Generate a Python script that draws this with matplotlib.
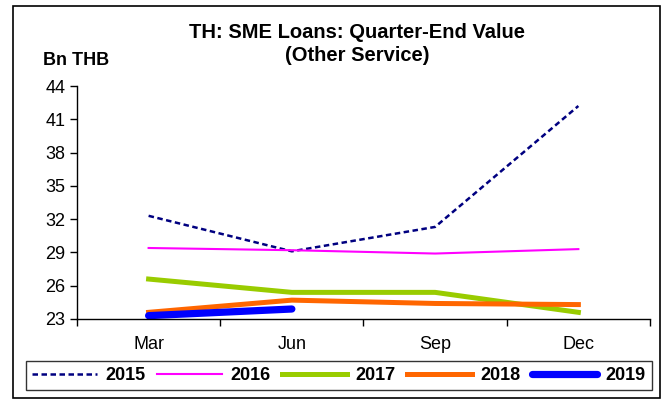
import matplotlib
matplotlib.use("Agg")
import matplotlib.pyplot as plt
from matplotlib.patches import Rectangle

plt.rcParams['font.family'] = ['Liberation Sans', 'DejaVu Sans']

quarters = ["Mar", "Jun", "Sep", "Dec"]
s2015 = [32.3, 29.1, 31.3, 42.2]
s2016 = [29.4, 29.2, 28.9, 29.3]
s2017 = [26.6, 25.4, 25.4, 23.6]
s2018 = [23.6, 24.7, 24.4, 24.3]
s2019 = [23.3, 23.9]
yticks = [23, 26, 29, 32, 35, 38, 41, 44]

fig = plt.figure(figsize=(6.67, 4.01), dpi=100)
ax = fig.add_axes([0.1154, 0.2045, 0.8591, 0.581])

x = list(range(len(quarters)))
ax.plot(x, s2015, color="#000080", lw=1.8, ls=(0, (2.2, 1.4)), label="2015")
ax.plot(x, s2016, color="#FF00FF", lw=1.5, label="2016")
ax.plot(x, s2017, color="#99CC00", lw=3.6, label="2017")
ax.plot(x, s2018, color="#FF6600", lw=3.6, label="2018")
ax.plot(x[:len(s2019)], s2019, color="#0000FF", lw=5.2, solid_capstyle="round", label="2019")

ax.set_xlim(-0.5, 3.5)
ax.set_ylim(23, 44)
ax.set_yticks(yticks)
ax.tick_params(axis="y", labelsize=13, length=5, width=1, direction="out")

ax.set_xticks([-0.5, 0.5, 1.5, 2.5, 3.5])
ax.set_xticklabels([])
ax.set_xticks(x, minor=True)
ax.set_xticklabels(quarters, minor=True)
ax.tick_params(axis="x", which="major", length=5, width=1, direction="out")
ax.tick_params(axis="x", which="minor", length=0, labelsize=13, pad=12)

for side in ["top", "right"]:
    ax.spines[side].set_visible(False)
for side in ["left", "bottom"]:
    ax.spines[side].set_linewidth(1)

fig.text(0.535, 0.89, "TH: SME Loans: Quarter-End Value\n(Other Service)",
         ha="center", va="center", fontsize=14.5, fontweight="bold", linespacing=1.3)
fig.text(0.064, 0.85, "Bn THB", ha="left", va="center", fontsize=13, fontweight="bold")

leg = fig.legend(loc="center", bbox_to_anchor=(0.508, 0.064), ncol=5, frameon=True,
                 fancybox=False, edgecolor="black", prop={"weight": "bold", "size": 13},
                 handlelength=3.6, handletextpad=0.45, columnspacing=0.65,
                 borderpad=0.35)
leg.get_frame().set_linewidth(1)

fig.patches.append(Rectangle((0.0195, 0.008), 0.97, 0.977, transform=fig.transFigure,
                             fill=False, edgecolor="black", lw=1.2))

fig.savefig("out.png", dpi=100)
